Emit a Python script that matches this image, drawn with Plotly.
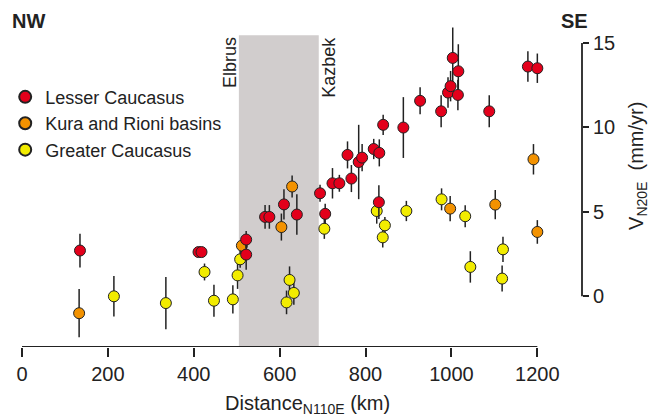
import plotly.graph_objects as go

# ---- data (distance km, velocity mm/yr, 1-sigma error) ----
lesser_x = [135, 411, 418, 522, 522, 566, 576, 610, 640, 694, 706, 723, 739, 758, 767,
            784, 792, 819, 831, 832, 841, 888, 927, 976, 992, 998, 1003, 1015, 1016,
            1088, 1178, 1200]
lesser_y = [2.71, 2.62, 2.62, 3.36, 2.47, 4.70, 4.70, 5.44, 4.84, 6.10, 4.88, 6.69, 6.69,
            8.37, 6.97, 7.95, 8.21, 8.72, 5.57, 8.49, 10.15, 9.99, 11.57, 10.95, 12.06,
            12.44, 14.11, 11.92, 13.32, 10.95, 13.60, 13.50]
lesser_e = [1.0, 0.3, 0.3, 0.5, 0.9, 0.7, 0.7, 0.9, 1.2, 0.5, 0.6, 0.9, 0.5, 0.8, 0.8,
            2.2, 0.8, 0.6, 1.0, 0.8, 0.6, 1.8, 0.8, 0.95, 0.9, 0.9, 1.8, 0.9, 1.6,
            0.95, 0.9, 0.87]

kura_x = [133, 512, 604, 629, 997, 1102, 1191, 1200]
kura_y = [-1.0, 3.0, 4.1, 6.5, 5.19, 5.43, 8.11, 3.81]
kura_e = [1.43, 0.5, 0.8, 0.65, 0.75, 0.87, 0.9, 0.7]

greater_x = [214, 335, 425, 447, 491, 502, 508, 616, 623, 633, 704, 826, 840, 845, 895,
             977, 1032, 1044, 1118, 1120]
greater_y = [0.0, -0.4, 1.44, -0.26, -0.18, 1.24, 2.19, -0.36, 0.97, 0.2, 4.0, 5.05, 3.49,
             4.2, 5.05, 5.74, 4.74, 1.74, 1.05, 2.78]
greater_e = [1.2, 1.55, 0.5, 0.95, 0.83, 0.8, 0.5, 0.7, 0.8, 0.7, 0.6, 0.75, 0.6, 0.5, 0.6,
             0.65, 0.65, 0.93, 0.77, 0.75]

x_ticks = [0, 200, 400, 600, 800, 1000, 1200]
y_ticks = [0, 5, 10, 15]
band = [505, 691]

FONT = "Liberation Sans, Arial, sans-serif"
INK = "#222222"

series = [
    ("Greater Caucasus", greater_x, greater_y, greater_e, "#f2ec00"),
    ("Kura and Rioni basins", kura_x, kura_y, kura_e, "#f39200"),
    ("Lesser Caucasus", lesser_x, lesser_y, lesser_e, "#e3001b"),
]

fig = go.Figure()
for name, xs, ys, es, col in series:
    fig.add_trace(go.Scatter(
        x=xs, y=ys, mode="markers", name=name,
        marker=dict(size=11, color=col, line=dict(color=INK, width=1)),
        error_y=dict(type="data", array=es, visible=True, thickness=1.5, width=0, color=INK),
        cliponaxis=False, hoverinfo="skip",
    ))

fig.update_layout(
    width=653, height=417,
    margin=dict(l=22, r=71, t=26, b=70, autoexpand=False),
    plot_bgcolor="white", paper_bgcolor="white",
    font=dict(family=FONT, size=20, color=INK),
    showlegend=True,
    legend=dict(x=-0.03, y=0.836, xanchor="left", yanchor="top",
                traceorder="reversed", font=dict(size=18, color=INK),
                bgcolor="rgba(0,0,0,0)", itemsizing="constant"),
    xaxis=dict(range=[0, 1304], tickvals=x_ticks, ticks="outside", ticklen=9,
               tickwidth=1.8, tickcolor=INK, showgrid=False, zeroline=False,
               showline=False, tickfont=dict(size=20), automargin=False),
    yaxis=dict(range=[-3, 16], side="right", tickvals=y_ticks, ticks="outside",
               ticklen=6, tickwidth=1.8, tickcolor=INK, showgrid=False,
               zeroline=False, showline=False, tickfont=dict(size=20), automargin=False),
)

# grey band between Elbrus and Kazbek
fig.add_shape(type="rect", xref="x", yref="y", x0=band[0], x1=band[1], y0=-3, y1=15.45,
              fillcolor="#d1cdcd", line=dict(width=0), layer="below")
# axis lines
fig.add_shape(type="line", xref="x", yref="y", x0=0, x1=1200, y0=-3, y1=-3,
              line=dict(color=INK, width=1.8))
fig.add_shape(type="line", xref="paper", yref="y", x0=1, x1=1, y0=0, y1=15,
              line=dict(color=INK, width=1.8))

fig.add_annotation(text="Elbrus", x=485, y=15.45, xref="x", yref="y", textangle=-90,
                   xanchor="center", yanchor="top", showarrow=False, font=dict(size=18))
fig.add_annotation(text="Kazbek", x=715, y=15.45, xref="x", yref="y", textangle=-90,
                   xanchor="center", yanchor="top", showarrow=False, font=dict(size=18))
fig.add_annotation(text="<b>NW</b>", x=-0.022, y=1.016, xref="paper", yref="paper",
                   xanchor="left", yanchor="middle", showarrow=False, font=dict(size=20))
fig.add_annotation(text="<b>SE</b>", x=1.014, y=1.016, xref="paper", yref="paper",
                   xanchor="right", yanchor="middle", showarrow=False, font=dict(size=20))
fig.add_annotation(text="Distance<sub>N110E</sub> (km)", x=0.509, y=-0.18,
                   xref="paper", yref="paper", xanchor="center", yanchor="middle",
                   showarrow=False, font=dict(size=20))
fig.add_annotation(text="V<sub>N20E</sub>  (mm/yr)", x=1.1, y=0.564,
                   xref="paper", yref="paper", xanchor="center", yanchor="middle",
                   textangle=-90, showarrow=False, font=dict(size=20))

fig.write_html("out.html")
